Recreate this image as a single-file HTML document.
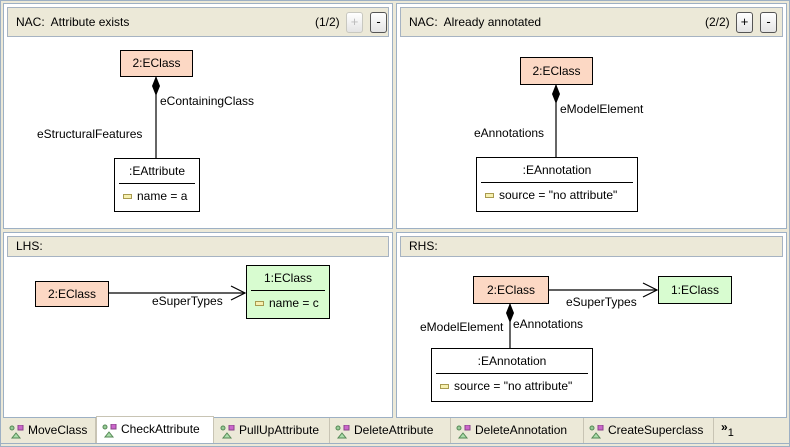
<!DOCTYPE html>
<html><head><meta charset="utf-8"><style>
*{margin:0;padding:0;box-sizing:border-box}
body{width:790px;height:447px;background:#ece9d8;position:relative;overflow:hidden;font-family:"Liberation Sans","DejaVu Sans",sans-serif;font-size:12px;color:#000}
.a{position:absolute}
.panel{position:absolute;background:#fff;border:1px solid #9db0c4}
.hdr{position:absolute;left:3px;right:3px;top:3px;background:#ece9d8;border:1px solid #a6b3c2;padding-left:8px;font-size:12px}
.btn{position:absolute;width:17px;height:21px;border:1px solid #555;border-radius:3px;background:linear-gradient(#fff,#e4e4e4);text-align:center;font-size:13px;line-height:18px}
.btn.dis{border-color:#c8c8c0;color:#bbb}
.node{position:absolute;border:1px solid #000;text-align:center;font-size:12px}
.red{background:#fcd8c4}
.grn{background:#d8fcd0}
.wht{background:#fff}
.div{position:absolute;height:1px;background:#000}
.ic{display:inline-block;width:9px;height:5px;border:1px solid #a89a50;background:#f6f0b0;margin-right:5px;vertical-align:middle}
.lbl{position:absolute;font-size:12px;white-space:nowrap}
.tab{position:absolute;top:418px;height:25px;line-height:24px;font-size:12px;padding-left:24px;border-right:1px solid #c8c4b4;white-space:nowrap}
.tab i{position:absolute;left:5px;top:5px;width:15px;height:14px}
</style></head><body>
<div class="a" style="left:0;top:0;width:790px;height:447px;border:1px solid #9db0c4"></div>

<!-- top-left -->
<div class="panel" style="left:3px;top:3px;width:390px;height:226px">
 <div class="hdr" style="height:30px;line-height:28px">NAC:&nbsp; Attribute exists
  <span class="a" style="left:307px;top:0">(1/2)</span>
  <div class="btn dis" style="left:338px;top:4px">+</div>
  <div class="btn" style="left:362px;top:4px">-</div>
 </div>
</div>
<!-- top-right -->
<div class="panel" style="left:396px;top:3px;width:391px;height:226px">
 <div class="hdr" style="height:30px;line-height:28px">NAC:&nbsp; Already annotated
  <span class="a" style="left:304px;top:0">(2/2)</span>
  <div class="btn" style="left:335px;top:4px">+</div>
  <div class="btn" style="left:359px;top:4px">-</div>
 </div>
</div>
<!-- bottom-left -->
<div class="panel" style="left:3px;top:232px;width:390px;height:186px">
 <div class="hdr" style="height:21px;line-height:19px">LHS:</div>
</div>
<!-- bottom-right -->
<div class="panel" style="left:396px;top:232px;width:391px;height:186px">
 <div class="hdr" style="height:21px;line-height:19px">RHS:</div>
</div>

<svg class="a" style="left:0;top:0" width="790" height="447">
 <g stroke="#000" stroke-width="1.2" fill="none">
  <line x1="156" y1="76" x2="156" y2="158"/>
  <line x1="556" y1="84" x2="556" y2="157"/>
  <line x1="108" y1="293" x2="245" y2="293"/>
  <polyline points="231,286 245,293 231,300"/>
  <line x1="548" y1="290" x2="657" y2="290"/>
  <polyline points="643,283 657,290 643,297"/>
  <line x1="510" y1="303" x2="510" y2="348"/>
 </g>
 <g fill="#000">
  <polygon points="156,76 160,86 156,96 152,86"/>
  <polygon points="556,84 560,94 556,104 552,94"/>
  <polygon points="510,303 514,313 510,323 506,313"/>
 </g>
</svg>

<!-- top-left nodes -->
<div class="node red" style="left:120px;top:50px;width:73px;height:27px;line-height:25px">2:EClass</div>
<div class="lbl" style="left:160px;top:94px">eContainingClass</div>
<div class="lbl" style="left:37px;top:127px">eStructuralFeatures</div>
<div class="node wht" style="left:114px;top:158px;width:86px;height:54px">
 <div style="line-height:24px">:EAttribute</div>
 <div class="div" style="left:4px;right:4px;top:24px"></div>
 <div style="position:absolute;left:8px;top:30px;white-space:nowrap"><span class="ic"></span>name = a</div>
</div>

<!-- top-right nodes -->
<div class="node red" style="left:520px;top:57px;width:73px;height:28px;line-height:26px">2:EClass</div>
<div class="lbl" style="left:560px;top:102px">eModelElement</div>
<div class="lbl" style="left:474px;top:126px">eAnnotations</div>
<div class="node wht" style="left:476px;top:157px;width:162px;height:55px">
 <div style="line-height:24px">:EAnnotation</div>
 <div class="div" style="left:4px;right:4px;top:24px"></div>
 <div style="position:absolute;left:8px;top:30px;white-space:nowrap"><span class="ic"></span>source = "no attribute"</div>
</div>

<!-- LHS -->
<div class="node red" style="left:35px;top:281px;width:74px;height:26px;line-height:24px">2:EClass</div>
<div class="lbl" style="left:152px;top:294px">eSuperTypes</div>
<div class="node grn" style="left:246px;top:265px;width:84px;height:54px">
 <div style="line-height:24px">1:EClass</div>
 <div class="div" style="left:4px;right:4px;top:24px"></div>
 <div style="position:absolute;left:8px;top:30px;white-space:nowrap"><span class="ic"></span>name = c</div>
</div>

<!-- RHS -->
<div class="node red" style="left:473px;top:276px;width:76px;height:28px;line-height:26px">2:EClass</div>
<div class="lbl" style="left:566px;top:295px">eSuperTypes</div>
<div class="node grn" style="left:658px;top:276px;width:74px;height:28px;line-height:26px">1:EClass</div>
<div class="lbl" style="left:420px;top:320px">eModelElement</div>
<div class="lbl" style="left:513px;top:317px">eAnnotations</div>
<div class="node wht" style="left:431px;top:348px;width:162px;height:54px">
 <div style="line-height:24px">:EAnnotation</div>
 <div class="div" style="left:4px;right:4px;top:24px"></div>
 <div style="position:absolute;left:8px;top:30px;white-space:nowrap"><span class="ic"></span>source = "no attribute"</div>
</div>

<!-- tabs -->
<div class="a" style="left:1px;top:443px;width:788px;height:1px;background:#9db0c4"></div>
<div class="tab" style="left:4px;width:92px"><i><svg width="15" height="14"><circle cx="3" cy="3" r="2" fill="#9c9" stroke="#585"/><rect x="9" y="0" width="5" height="5" fill="#c6c" stroke="#848"/><polygon points="7,8 11,13 3,13" fill="#ada" stroke="#585"/></svg></i>MoveClass</div>
<div class="tab" style="left:96px;width:118px;background:#fff;border:1px solid #c8c4b4;border-bottom:none;top:416px;height:27px"><i><svg width="15" height="14"><circle cx="3" cy="3" r="2" fill="#9c9" stroke="#585"/><rect x="9" y="0" width="5" height="5" fill="#c6c" stroke="#848"/><polygon points="7,8 11,13 3,13" fill="#ada" stroke="#585"/></svg></i>CheckAttribute</div>
<div class="tab" style="left:215px;width:115px"><i><svg width="15" height="14"><circle cx="3" cy="3" r="2" fill="#9c9" stroke="#585"/><rect x="9" y="0" width="5" height="5" fill="#c6c" stroke="#848"/><polygon points="7,8 11,13 3,13" fill="#ada" stroke="#585"/></svg></i>PullUpAttribute</div>
<div class="tab" style="left:330px;width:121px"><i><svg width="15" height="14"><circle cx="3" cy="3" r="2" fill="#9c9" stroke="#585"/><rect x="9" y="0" width="5" height="5" fill="#c6c" stroke="#848"/><polygon points="7,8 11,13 3,13" fill="#ada" stroke="#585"/></svg></i>DeleteAttribute</div>
<div class="tab" style="left:451px;width:133px"><i><svg width="15" height="14"><circle cx="3" cy="3" r="2" fill="#9c9" stroke="#585"/><rect x="9" y="0" width="5" height="5" fill="#c6c" stroke="#848"/><polygon points="7,8 11,13 3,13" fill="#ada" stroke="#585"/></svg></i>DeleteAnnotation</div>
<div class="tab" style="left:584px;width:130px"><i><svg width="15" height="14"><circle cx="3" cy="3" r="2" fill="#9c9" stroke="#585"/><rect x="9" y="0" width="5" height="5" fill="#c6c" stroke="#848"/><polygon points="7,8 11,13 3,13" fill="#ada" stroke="#585"/></svg></i>CreateSuperclass</div>
<div class="a" style="left:721px;top:420px;font-size:12px;font-weight:bold">»<span style="font-weight:normal;font-size:11px;position:relative;top:5px">1</span></div>
</body></html>
